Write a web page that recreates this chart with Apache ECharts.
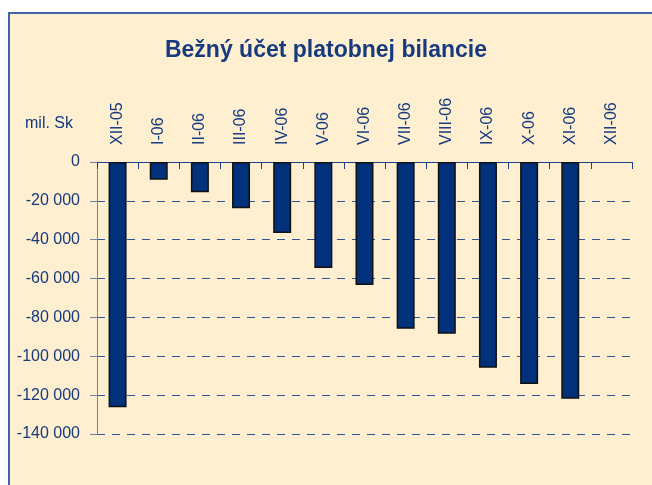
<!DOCTYPE html>
<html>
<head>
<meta charset="utf-8">
<script src="https://cdn.jsdelivr.net/npm/echarts@6/dist/echarts.min.js"></script>
<style>
  html, body { margin: 0; padding: 0; background: #ffffff; }
  #wrap { position: relative; width: 652px; height: 485px; overflow: hidden; }
  #frame { position: absolute; left: 8px; top: 12px; width: 700px; height: 500px;
           background: #FEEFD0; border-left: 2px solid #3E63A6; border-top: 2px solid #3E63A6; }
  #chart { position: absolute; left: 0; top: 0; width: 652px; height: 485px; }
</style>
</head>
<body>
<div id="wrap">
  <div id="frame"></div>
  <div id="chart"></div>
</div>
<script>
const titleText = 'Bežný účet platobnej bilancie';
const unitLabel = 'mil. Sk';
const categories = ['XII-05', 'I-06', 'II-06', 'III-06', 'IV-06', 'V-06', 'VI-06', 'VII-06', 'VIII-06', 'IX-06', 'X-06', 'XI-06', 'XII-06'];
const values = [-126200, -9100, -15600, -23800, -36500, -54600, -63300, -85800, -88400, -105900, -114300, -121800, null];
const yMin = -140000, yMax = 0, yStep = 20000;

const textColor = '#173A7E';
const font = 'Liberation Sans';
const chart = echarts.init(document.getElementById('chart'), null, { renderer: 'canvas' });
chart.setOption({
  backgroundColor: 'transparent',
  animation: false,
  title: {
    text: titleText, left: 'center', top: 34,
    textStyle: { fontFamily: font, fontWeight: 'bold', fontSize: 23, color: '#173A7E' }
  },
  graphic: [{
    type: 'text', left: 25, top: 116,
    style: { text: unitLabel, fontFamily: font, fontSize: 16, fill: textColor }
  }],
  grid: { left: 97, right: 20, top: 162, bottom: 51, containLabel: false },
  xAxis: {
    type: 'category', data: categories, position: 'top', boundaryGap: true,
    axisLine: { show: true, onZero: false, lineStyle: { color: '#1E3F8C', width: 1 } },
    axisTick: { show: true, inside: true, length: 7, lineStyle: { color: '#1E3F8C' } },
    axisLabel: { rotate: -90, margin: 17, fontFamily: font, fontSize: 16, color: textColor, interval: 0 },
    splitLine: { show: false }
  },
  yAxis: {
    type: 'value', min: yMin, max: yMax, interval: yStep,
    axisLine: { show: true, lineStyle: { color: '#7383A6', width: 1 } },
    axisTick: { show: true, inside: false, length: 7, lineStyle: { color: '#7383A6' } },
    axisLabel: {
      margin: 17, fontFamily: font, fontSize: 16, color: textColor,
      formatter: v => {
        const s = Math.abs(v).toString().replace(/\B(?=(\d{3})+(?!\d))/g, ' ');
        return (v < 0 ? '-' : '') + s;
      }
    },
    splitLine: { show: true, lineStyle: { color: '#2F5597', type: [8, 7], width: 1 } }
  },
  series: [{
    type: 'bar', data: values, barWidth: 18,
    itemStyle: { color: '#00317A', borderColor: '#111111', borderWidth: 1.5 }
  }]
});
</script>
</body>
</html>
